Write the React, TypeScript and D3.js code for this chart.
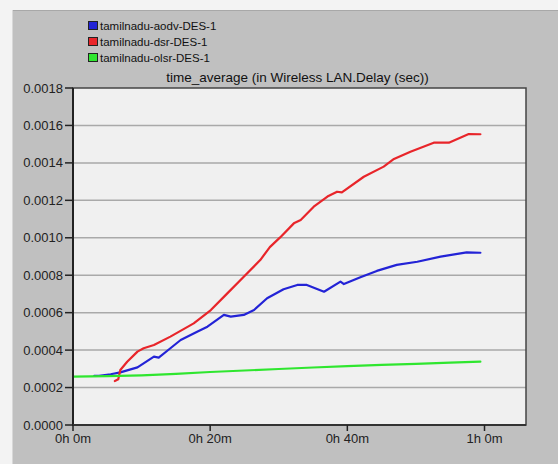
import React from "react";
import * as d3 from "d3";

// Simulated average Wireless LAN delay (sec) against simulation time (minutes)
const aodvMinutes = [3.1, 3.8, 5.5, 6.9, 9.4, 11.8, 12.5, 14.2, 15.7, 18.1, 19.6, 22.0, 23.0, 24.9, 26.4, 28.3, 30.7, 32.7, 34.1, 36.6, 39.0, 39.5, 41.9, 44.3, 47.2, 50.2, 53.6, 57.4, 59.4];
const aodvDelay = [0.000263, 0.000262, 0.000271, 0.000281, 0.000308, 0.000365, 0.00036, 0.00041, 0.000454, 0.000498, 0.000525, 0.000588, 0.000579, 0.000588, 0.000614, 0.000677, 0.000725, 0.000748, 0.000748, 0.000712, 0.000766, 0.000753, 0.000789, 0.000823, 0.000855, 0.000872, 0.000899, 0.000922, 0.00092];

const dsrMinutes = [6.1, 6.6, 6.9, 7.9, 9.4, 10.3, 11.8, 14.2, 17.6, 20.1, 22.5, 24.9, 27.3, 28.7, 30.2, 32.2, 33.2, 35.1, 37.1, 38.5, 39.2, 42.4, 45.3, 46.8, 49.2, 52.6, 54.8, 57.7, 59.4];
const dsrDelay = [0.000235, 0.000244, 0.000294, 0.000338, 0.000392, 0.00041, 0.000427, 0.000472, 0.000543, 0.000614, 0.000703, 0.000792, 0.000881, 0.00095, 0.001002, 0.001077, 0.001095, 0.001166, 0.00122, 0.001246, 0.001243, 0.001326, 0.00138, 0.001421, 0.00146, 0.001508, 0.001508, 0.001554, 0.001553];

const olsrMinutes = [0, 5, 10, 15, 20, 25, 30, 35, 40, 45, 50, 55, 59.4];
const olsrDelay = [0.000258, 0.000261, 0.000265, 0.000273, 0.000283, 0.000291, 0.000299, 0.000307, 0.000314, 0.000321, 0.000327, 0.000333, 0.000338];

const seriesNames = ["tamilnadu-aodv-DES-1", "tamilnadu-dsr-DES-1", "tamilnadu-olsr-DES-1"];
const seriesColors = ["#2323d6", "#e8252a", "#2fe62f"];

const yTicks = [0, 0.0002, 0.0004, 0.0006, 0.0008, 0.001, 0.0012, 0.0014, 0.0016, 0.0018];
const xTicks = [0, 20, 40, 60];
const xTickLabels = ["0h 0m", "0h 20m", "0h 40m", "1h 0m"];
const chartTitle = "time_average (in Wireless LAN.Delay (sec))";

const W = 558;
const H = 464;
const plot = { left: 73, top: 88, right: 526, bottom: 425 };

export default function App() {
  const x = d3.scaleLinear().domain([0, 66.05]).range([plot.left, plot.right]);
  const y = d3.scaleLinear().domain([0, 0.0018]).range([plot.bottom, plot.top]);

  const makeLine = (xs: number[], ys: number[]) =>
    d3
      .line<number>()
      .x((_, i) => x(xs[i]))
      .y((v) => y(v))(ys) || "";

  const series = [
    { xs: aodvMinutes, ys: aodvDelay },
    { xs: dsrMinutes, ys: dsrDelay },
    { xs: olsrMinutes, ys: olsrDelay },
  ];

  const font = "'Liberation Sans', Arial, sans-serif";

  return (
    <svg
      width={W}
      height={H}
      style={{ position: "absolute", left: 0, top: 0, display: "block" }}
      fontFamily={font}
    >
      {/* window surround */}
      <rect x={0} y={0} width={W} height={H} fill="#f3f3f3" />
      <rect x={13} y={10} width={W - 13} height={H - 10} fill="#c0c0c0" />
      <line x1={13} x2={W} y1={10.5} y2={10.5} stroke="#a8a8a8" />
      <line x1={12.5} x2={12.5} y1={10} y2={H} stroke="#d8d8d8" />

      {/* legend */}
      {seriesNames.map((name, i) => (
        <g key={name} transform={`translate(88, ${21 + i * 16})`}>
          <rect x={0.5} y={0.5} width={9} height={8} fill={seriesColors[i]} stroke="#222" strokeWidth={1} />
          <text x={12} y={8.5} fontSize={11.5} fill="#111">
            {name}
          </text>
        </g>
      ))}

      {/* title */}
      <text x={(plot.left + plot.right) / 2 - 2} y={82} fontSize={13.5} textAnchor="middle" fill="#111">
        {chartTitle}
      </text>

      {/* plot area */}
      <rect
        x={plot.left}
        y={plot.top}
        width={plot.right - plot.left}
        height={plot.bottom - plot.top}
        fill="#f0f0f0"
      />

      {/* horizontal grid */}
      {yTicks.slice(1, -1).map((t) => (
        <line
          key={t}
          x1={plot.left}
          x2={plot.right}
          y1={y(t)}
          y2={y(t)}
          stroke="#a9a9a9"
          strokeWidth={1.5}
        />
      ))}

      {/* series */}
      {series.map((s, i) => (
        <path
          key={seriesNames[i]}
          d={makeLine(s.xs, s.ys)}
          fill="none"
          stroke={seriesColors[i]}
          strokeWidth={2.2}
          strokeLinejoin="round"
          strokeLinecap="round"
        />
      ))}

      {/* frame */}
      <rect
        x={plot.left}
        y={plot.top}
        width={plot.right - plot.left}
        height={plot.bottom - plot.top}
        fill="none"
        stroke="#444"
        strokeWidth={1.5}
      />
      <line x1={plot.left} x2={plot.left} y1={plot.top} y2={plot.bottom + 1} stroke="#222" strokeWidth={2} />
      <line x1={plot.left} x2={plot.right} y1={plot.bottom} y2={plot.bottom} stroke="#333" strokeWidth={2} />

      {/* y axis ticks */}
      {yTicks.map((t) => (
        <g key={t}>
          <line x1={plot.left - 8} x2={plot.left} y1={y(t)} y2={y(t)} stroke="#222" strokeWidth={1.5} />
          <text x={plot.left - 10} y={y(t) + 4.5} fontSize={13} textAnchor="end" fill="#222">
            {t.toFixed(4)}
          </text>
        </g>
      ))}

      {/* x axis ticks */}
      {xTicks.map((t, i) => (
        <g key={t}>
          <line x1={x(t)} x2={x(t)} y1={plot.bottom} y2={plot.bottom + 6} stroke="#222" strokeWidth={1.5} />
          <text x={x(t)} y={plot.bottom + 18} fontSize={13} textAnchor="middle" fill="#222">
            {xTickLabels[i]}
          </text>
        </g>
      ))}
    </svg>
  );
}
